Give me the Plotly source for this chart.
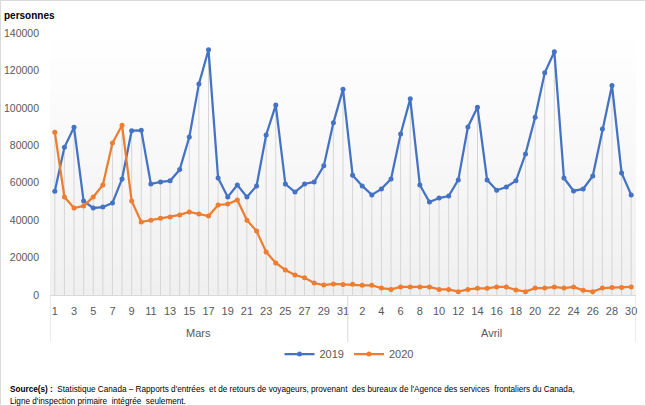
import plotly.graph_objects as go

# ---------------- data ----------------
mois = ["Mars", "Avril"]
jours_mars = list(range(1, 32))
jours_avril = list(range(1, 31))

v2019 = [55400, 78900, 89600, 50200, 46500, 47000, 49200, 62000, 87800, 88000,
         59300, 60400, 61000, 67000, 84400, 112800, 131000, 62500, 52400, 58800,
         52400, 58300, 85500, 101500, 59300, 55000, 59300, 60400, 69000, 92000,
         110000,
         64000, 58300, 53500, 56700, 62000, 86000, 104800, 58800, 49700, 51800,
         52900, 61500, 89800, 100300, 61500, 56000, 57700, 61000, 75400, 95000,
         118700, 130000, 62500, 55600, 56700, 63600, 88700, 112000, 65200, 53500]

v2020 = [87000, 52400, 46500, 47600, 52400, 58800, 81200, 90700, 50200, 39000,
         40000, 41000, 41700, 42800, 44400, 43300, 42200, 48100, 48600, 50800,
         40000, 34200, 23000, 17100, 13400, 10700, 9200, 6400, 5300, 5900,
         5600,
         5700, 5200, 5200, 3700, 3000, 4300, 4300, 4300, 4300, 3000,
         3000, 1800, 3000, 3600, 3600, 4300, 4300, 2700, 1800, 3700,
         3700, 4300, 3700, 4300, 2500, 1800, 3700, 4000, 4000, 4300]

y_ticks = [0, 20000, 40000, 60000, 80000, 100000, 120000, 140000]
series_names = ["2019", "2020"]
source_l1 = ("<b>Source(s) :</b>  Statistique Canada – Rapports d'entrées  et de retours de voyageurs,"
             " provenant  des bureaux de l'Agence des services  frontaliers du Canada,")
source_l2 = "Ligne d'inspection primaire  intégrée  seulement."

# ---------------- derived ----------------
jours = jours_mars + jours_avril
idx = list(range(len(jours)))
tickvals = idx[::2]
ticktext = [str(j) for j in jours[::2]]

FONT = "Liberation Sans, Arial, sans-serif"
GREY_TXT = "#595959"
BLUE = "#4472C4"
ORANGE = "#ED7D31"

fig = go.Figure()

# drop lines
dx, dy = [], []
for i, (a, b) in enumerate(zip(v2019, v2020)):
    dx += [i, i, None]
    dy += [0, max(a, b), None]
fig.add_trace(go.Scatter(x=dx, y=dy, mode="lines",
                         line=dict(color="#d6d6d6", width=1),
                         showlegend=False, hoverinfo="skip"))

for name, vals, col in [(series_names[0], v2019, BLUE), (series_names[1], v2020, ORANGE)]:
    fig.add_trace(go.Scatter(x=idx, y=vals, name=name, mode="lines+markers",
                             line=dict(color=col, width=2.25),
                             marker=dict(color=col, size=5, symbol="circle")))

shapes = []
# gradient background in plot area
n = 40
for k in range(n):
    t = k / n
    c = int(round(240 + (255 - 240) * t))
    shapes.append(dict(type="rect", xref="paper", yref="paper",
                       x0=0, x1=1, y0=t, y1=(k + 1) / n + 0.002,
                       fillcolor=f"rgb({c},{c},{c})", line=dict(width=0),
                       layer="below"))

L, T, H, W = 50, 33, 262, 586
def py(p):
    return (295 - p) / H

n_mars = len(jours_mars)
for xv in [-0.5, n_mars - 0.5, len(jours) - 0.5]:
    shapes.append(dict(type="line", xref="x", yref="paper",
                       x0=xv, x1=xv, y0=0, y1=py(342),
                       line=dict(color="#d9d9d9", width=1)))

# outer border
shapes.append(dict(type="rect", xref="paper", yref="paper",
                   x0=(0.5 - L) / W, x1=(645.5 - L) / W,
                   y0=py(405.5), y1=py(0.5),
                   line=dict(color="#d9d9d9", width=1), fillcolor="rgba(0,0,0,0)"))

annotations = [
    dict(text="<b>personnes</b>", xref="paper", yref="paper",
         x=(2 - L) / W, y=py(16), xanchor="left", yanchor="middle",
         showarrow=False, font=dict(family=FONT, size=10, color="#000000")),
    dict(text=mois[0], xref="x", yref="paper",
         x=(n_mars - 1) / 2, y=py(333), xanchor="center", yanchor="middle",
         showarrow=False, font=dict(family=FONT, size=11, color=GREY_TXT)),
    dict(text=mois[1], xref="x", yref="paper",
         x=n_mars + (len(jours_avril) - 1) / 2, y=py(333), xanchor="center", yanchor="middle",
         showarrow=False, font=dict(family=FONT, size=11, color=GREY_TXT)),
    dict(text=source_l1, xref="paper", yref="paper",
         x=(8 - L) / W, y=py(389), xanchor="left", yanchor="middle",
         showarrow=False, font=dict(family=FONT, size=8.2, color="#000000")),
    dict(text=source_l2, xref="paper", yref="paper",
         x=(8 - L) / W, y=py(401), xanchor="left", yanchor="middle",
         showarrow=False, font=dict(family=FONT, size=8.2, color="#000000")),
]

fig.update_layout(
    width=646, height=406,
    margin=dict(l=L, r=646 - L - W, t=T, b=406 - T - H, autoexpand=False),
    paper_bgcolor="white", plot_bgcolor="white",
    font=dict(family=FONT, size=11, color=GREY_TXT),
    shapes=shapes, annotations=annotations,
    legend=dict(orientation="h", x=0.5 + 6 / W, xanchor="center", y=py(354), yanchor="middle",
                font=dict(family=FONT, size=11, color=GREY_TXT),
                itemwidth=30, bgcolor="rgba(0,0,0,0)"),
    xaxis=dict(range=[-0.5, len(jours) - 0.5], tickmode="array",
               tickvals=tickvals, ticktext=ticktext, showgrid=False,
               zeroline=False, showline=True, linecolor="#d9d9d9", linewidth=1,
               ticks="", ticklabelstandoff=6, tickangle=0, automargin=False,
               tickfont=dict(family=FONT, size=11, color=GREY_TXT), fixedrange=True),
    yaxis=dict(range=[0, 140000], tickmode="array", tickvals=y_ticks,
               ticktext=[str(v) for v in y_ticks], showgrid=False, zeroline=False,
               showline=False, ticks="", ticklabelstandoff=10, automargin=False,
               tickfont=dict(family=FONT, size=10.5, color=GREY_TXT), fixedrange=True),
    hovermode=False,
)

fig.write_html("out.html")
